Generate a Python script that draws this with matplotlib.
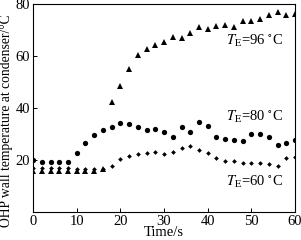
import matplotlib

matplotlib.use("Agg")
import matplotlib.pyplot as plt

# time axis shared by all three series (s)
time_s = [0, 2, 4, 6, 8, 10, 12, 14, 16, 18, 20, 22, 24, 26, 28, 30,
          32, 34, 36, 38, 40, 42, 44, 46, 48, 50, 52, 54, 56, 58, 60]

# condenser wall temperature (deg C) for each evaporator temperature
temp_96 = [15.6, 15.6, 15.6, 15.6, 15.6, 15.6, 15.6, 15.6, 16.5, 42.3,
           48.5, 55.0, 60.4, 62.7, 64.2, 65.4, 67.3, 66.9, 69.0, 71.2,
           70.4, 71.5, 71.9, 71.2, 73.5, 73.5, 74.2, 75.8, 76.9, 75.8, 76.2]
temp_80 = [19.8, 19.3, 19.1, 19.2, 19.2, 22.7, 26.5, 29.6, 31.5, 32.7,
           34.2, 34.0, 32.7, 31.5, 31.8, 30.9, 28.8, 32.7, 30.8, 34.8,
           33.2, 28.8, 28.0, 27.7, 27.3, 29.8, 29.8, 28.8, 25.9, 26.5, 27.7]
temp_60 = [16.9, 16.9, 16.9, 16.9, 16.9, 16.5, 16.5, 16.5, 16.5, 17.7,
           20.4, 21.4, 22.3, 22.7, 23.0, 22.3, 23.2, 24.6, 25.2, 23.8,
           22.5, 20.8, 19.6, 19.6, 18.8, 18.8, 18.8, 18.5, 17.7, 20.8, 21.2]

labels = ["96", "80", "60"]
label_y = [66, 36.5, 11.5]

plt.rcParams.update({
    "font.family": "Liberation Serif",
    "font.size": 10.5,
    "axes.linewidth": 0.8,
    "xtick.direction": "in",
    "ytick.direction": "in",
})

fig = plt.figure(figsize=(3.01, 2.40), dpi=100)
ax = fig.add_axes([0.11, 0.117, 0.87, 0.866])

ax.plot(time_s, temp_96, "^", color="black", ms=3.8, mew=0)
ax.plot(time_s, temp_80, "o", color="black", ms=3.8, mew=0)
ax.plot(time_s, temp_60, "D", color="black", ms=2.4, mew=0)

for lab, y in zip(labels, label_y):
    ax.text(44.3, y, r"$T_{\mathrm{E}}$=%s $^{\circ}$C" % lab,
            fontsize=10.5, va="center", ha="left",
            math_fontfamily="stix")

ax.set_xlim(0, 60)
ax.set_ylim(0, 80)
ax.set_xticks([0, 10, 20, 30, 40, 50, 60])
ax.set_yticks([20, 40, 60, 80])
ax.tick_params(length=3, width=0.7, pad=2)
ax.set_xlabel("Time/s", labelpad=-1)
ax.set_ylabel("OHP wall temperature at condenser/°C", fontsize=9.8)
ax.yaxis.set_label_coords(-0.075, 0.44)

fig.savefig("out.png", dpi=100)
